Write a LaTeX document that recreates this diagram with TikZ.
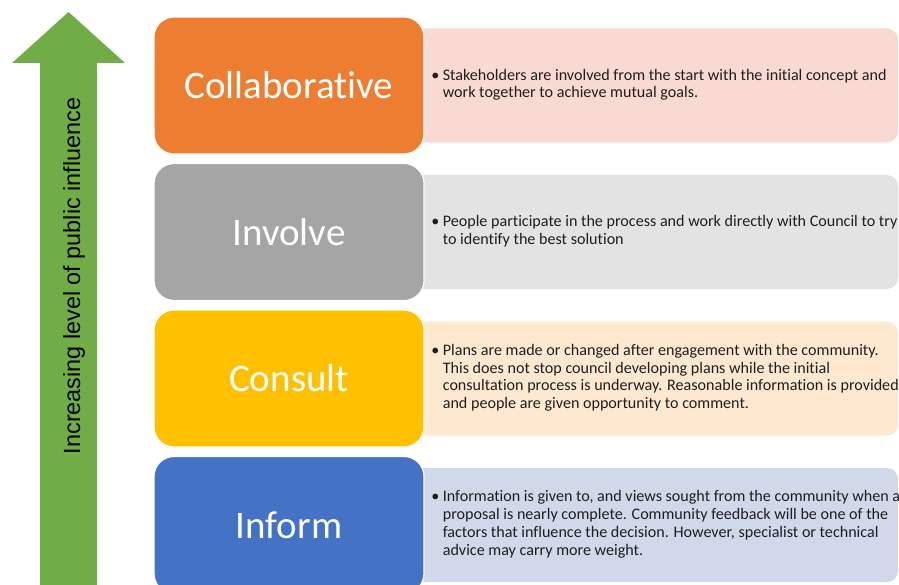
\documentclass[tikz,border=0pt]{standalone}
\usepackage{fontspec}
\setmainfont{Carlito}[Ligatures=NoCommon]
\newfontfamily\arialfont{Liberation Sans}[Ligatures=NoCommon]
\usetikzlibrary{positioning}

\definecolor{arrowgreen}{HTML}{70AD47}
\definecolor{collabcol}{HTML}{ED7D31}
\definecolor{involvecol}{HTML}{A5A5A5}
\definecolor{consultcol}{HTML}{FFC000}
\definecolor{informcol}{HTML}{4472C4}
\definecolor{collabbgcol}{HTML}{F8DAD2}
\definecolor{involvebgcol}{HTML}{E3E3E3}
\definecolor{consultbgcol}{HTML}{FEE8D0}
\definecolor{informbgcol}{HTML}{D1D8EA}

\tikzset{
	level/.style={fill=#1, draw=white, line width=1.2pt, rounded corners=20pt,
		minimum width=270pt, minimum height=137pt, text=white,
		font=\fontsize{39}{46}\selectfont},
	levelbg/.style={fill=#1, rounded corners=11pt, minimum width=494pt,
		minimum height=114pt, inner sep=0pt},
	leveltxt/.style={inner sep=0pt, text=black!88,
		font=\fontsize{16.1}{17.7}\selectfont},
}
% one bullet with its lines hanging under the first word
\newcommand{\bulletlines}[1]{\begin{tabular}{@{}l@{\hspace{3.5pt}}l@{}}\textbullet & #1\end{tabular}}

\begin{document}
\begin{tikzpicture}[x=1pt, y=-1pt]
	\useasboundingbox (0,0) rectangle (899,585);
	\clip (0,0) rectangle (899,585);
	% green arrow
	\fill[arrowgreen] (40,600) -- (40,63) -- (12,63) -- (68.5,12) -- (125,63) -- (97,63) -- (97,600) -- cycle;
	\node[rotate=90, anchor=base, font=\arialfont\fontsize{23.4}{28}\selectfont] (influence) at (80,276) {Increasing level of public influence};
	% light boxes behind
	\node[levelbg=collabbgcol] (collabbg) at (651,85.5) {};
	\node[levelbg=involvebgcol] (involvebg) at (651,232) {};
	\node[levelbg=consultbgcol] (consultbg) at (651,378.5) {};
	\node[levelbg=informbgcol] (informbg) at (651,525) {};
	% levels
	\node[level=collabcol] (collab) at (289,85.5) {Collaborative};
	\node[level=involvecol] (involve) at (289,232) {Involve};
	\node[level=consultcol] (consult) at (289,378.5) {Consult};
	\node[level=informcol] (inform) at (289,525) {Inform};
	% descriptions
	\node[leveltxt, right=6.5pt of collab] (collabtxt) {\bulletlines{Stakeholders are involved from the start with the initial concept and\\
		& work together to achieve mutual goals.}};
	\node[leveltxt, right=6.5pt of involve] (involvetxt) {\bulletlines{People participate in the process and work directly with Council to try\\
		& to identify the best solution}};
	\node[leveltxt, right=6.5pt of consult] (consulttxt) {\bulletlines{Plans are made or changed after engagement with the community.\\
		& This does not stop council developing plans while the initial\\
		& consultation process is underway. Reasonable information is provided\\
		& and people are given opportunity to comment.}};
	\node[leveltxt, right=6.5pt of inform] (informtxt) {\bulletlines{Information is given to, and views sought from the community when a\\
		& proposal is nearly complete. Community feedback will be one of the\\
		& factors that influence the decision. However, specialist or technical\\
		& advice may carry more weight.}};
\end{tikzpicture}
\end{document}
